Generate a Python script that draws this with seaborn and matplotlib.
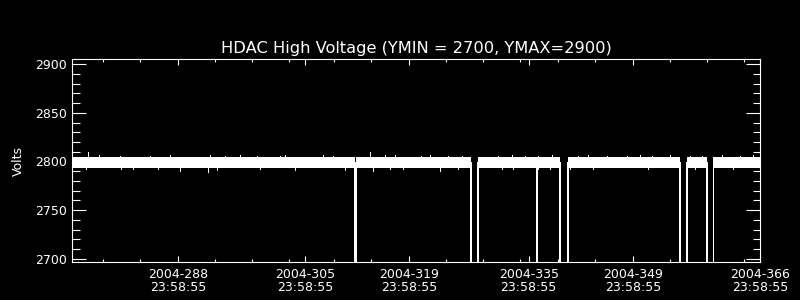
import matplotlib
matplotlib.use("Agg")
import matplotlib.pyplot as plt
from matplotlib.ticker import FixedLocator, MultipleLocator
import pandas as pd
import seaborn as sns

# ---------------- data (day-of-year 2004) ----------------
# main HDAC HV trace: nominal level with dropouts to 0 V
hv_day = [273.9, 311.68, 311.70, 311.88, 311.90,
          327.23, 327.25, 328.23, 328.25,
          336.06, 336.07, 336.08,
          339.24, 339.26, 340.21, 340.23,
          355.28, 355.30, 356.24, 356.26,
          358.86, 358.88, 359.73, 359.75, 366.05]
hv_volts = [2799, 2799, 0, 0, 2799,
            2799, 0, 0, 2799,
            2799, 0, 2799,
            2799, 0, 0, 2799,
            2799, 0, 0, 2799,
            2799, 0, 0, 2799, 2799]

# noise band (min / max envelope) per continuous segment
seg_start = [273.9, 311.9, 328.25, 340.23, 356.26, 359.75]
seg_end = [311.68, 327.23, 339.24, 355.28, 358.86, 366.05]
band_lo = [2793.5, 2793.5, 2793.5, 2793.5, 2793.5, 2793.5]
band_hi = [2804.3, 2804.3, 2804.3, 2804.3, 2804.3, 2804.3]

# isolated spikes outside the noise band
spike_day = [275.98, 277.41, 280.23, 284.25, 286.93, 292.29, 294.30, 296.31,
             298.59, 301.67, 302.34, 307.43, 308.77, 313.73, 315.74, 317.08,
             320.57, 321.77, 324.19, 326.06, 330.89, 332.76, 334.51, 336.25,
             338.12, 341.61, 342.95, 345.49, 348.18, 349.92, 351.53, 353.94,
             356.62, 358.23, 360.91, 363.32, 365.06,
             275.67, 280.40, 281.97, 285.32, 288.27, 292.02, 293.23, 298.99,
             303.68, 310.38, 314.13, 316.41, 318.15, 323.11, 325.53, 331.42,
             332.90, 336.20, 337.86, 340.54, 343.62, 350.99, 357.29, 362.38]
spike_volts = [2809.5, 2806.5, 2806, 2806, 2806.5, 2807, 2806, 2806.5,
               2806, 2806, 2806.5, 2806.5, 2806, 2809.5, 2806.5, 2807,
               2806, 2806.5, 2806, 2806, 2806, 2806.5, 2806, 2806,
               2806.5, 2806, 2806.5, 2806, 2806, 2806.5, 2806, 2806.5,
               2806, 2806, 2806.5, 2806, 2806.5,
               2792, 2792, 2792, 2792, 2790, 2788.7, 2791, 2792,
               2791, 2791, 2790, 2792.5, 2792, 2790, 2792, 2792,
               2792, 2792, 2792, 2792, 2792, 2792, 2792, 2792.5]

tick_days = [288, 305, 319, 335, 349, 366]
tick_labels = ["2004-288\n23:58:55", "2004-305\n23:58:55", "2004-319\n23:58:55",
               "2004-335\n23:58:55", "2004-349\n23:58:55", "2004-366\n23:58:55"]
minor_days = [277.9, 282.9, 292.9, 297.9, 302.9, 308.9, 313.9, 323.9, 328.9,
              333.9, 338.9, 343.9, 353.9, 358.9, 363.9]
y_ticks = [2700, 2750, 2800, 2850, 2900]

title = "HDAC High Voltage (YMIN = 2700, YMAX=2900)"

# ---------------- style ----------------
sns.set_theme(style="ticks", rc={
    "axes.facecolor": "black", "figure.facecolor": "black",
    "axes.edgecolor": "white", "text.color": "white",
    "axes.labelcolor": "white", "xtick.color": "white", "ytick.color": "white",
})
plt.rcParams["font.family"] = ["DejaVu Sans"]

fig = plt.figure(figsize=(8, 3), dpi=100)
ax = fig.add_axes([0.0906, 0.1257, 0.8594, 0.6767])
ax.set_facecolor("black")

# band data in long form
rows = []
for i in range(len(seg_start)):
    for d in (seg_start[i], seg_end[i]):
        rows.append({"day": d, "volts": band_lo[i], "seg": i})
        rows.append({"day": d, "volts": band_hi[i], "seg": i})
band_df = pd.DataFrame(rows)

sns.lineplot(data=band_df, x="day", y="volts", hue="seg",
             palette=["white"] * len(seg_start), estimator="mean",
             errorbar=("pi", 100), err_kws={"alpha": 1, "linewidth": 0},
             legend=False, lw=0.8, ax=ax)

trace_df = pd.DataFrame({"day": hv_day, "volts": hv_volts})
sns.lineplot(data=trace_df, x="day", y="volts", sort=False, estimator=None,
             color="white", lw=0.5, antialiased=False, ax=ax)

ax.vlines(spike_day, 2799, spike_volts, color="white", lw=0.5,
          antialiased=False)

ax.set_xlim(273.86, 366.0)
ax.set_ylim(2696.3, 2905.1)
ax.set_xticks(tick_days)
ax.set_xticklabels(tick_labels, fontsize=9, linespacing=1.05)
ax.xaxis.set_minor_locator(FixedLocator(minor_days))
ax.set_yticks(y_ticks)
ax.set_yticklabels([str(v) for v in y_ticks], fontsize=9)
ax.yaxis.set_minor_locator(MultipleLocator(10))

ax.tick_params(which="both", direction="in", top=True, right=True,
               colors="white", width=0.8)
ax.tick_params(axis="x", which="major", length=4.3, pad=4)
ax.tick_params(axis="x", which="minor", length=2.2)
ax.tick_params(axis="y", which="major", length=10.3, pad=4.3)
ax.tick_params(axis="y", which="minor", length=5.4)

for s in ax.spines.values():
    s.set_color("white")
    s.set_linewidth(0.8)
    s.set_visible(True)

ax.set_xlabel("")
ax.set_ylabel("Volts", fontsize=9, labelpad=7)
ax.set_title(title, fontsize=11.7, pad=4.5, color="white")

fig.savefig("out.png", dpi=100, facecolor="black")
